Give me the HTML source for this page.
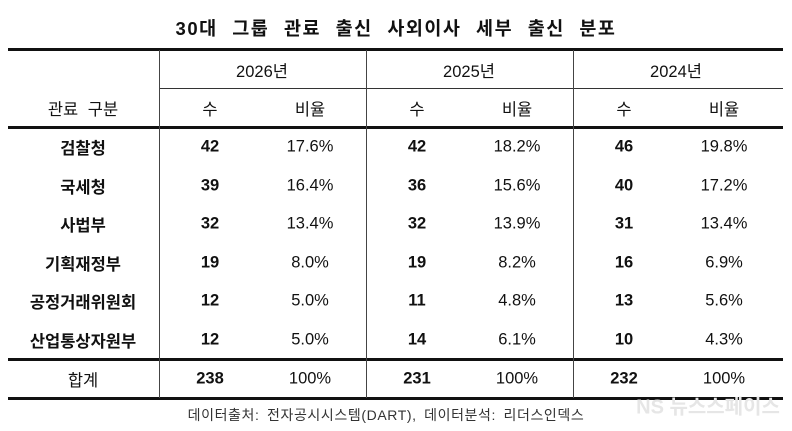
<!DOCTYPE html>
<html><head><meta charset="utf-8"><style>
body{margin:0;width:792px;height:431px;background:#fff;font-family:"Liberation Sans","Noto Sans CJK KR",sans-serif;color:#111;position:relative;overflow:hidden}
.a{position:absolute;white-space:nowrap;transform:translate(-50%,-50%);font-size:16.5px}
.b{font-weight:bold}
.h{position:absolute;background:#111}
</style></head><body>
<div class="a b" style="left:396px;top:28px;font-size:18.5px;letter-spacing:1.5px;word-spacing:8px">30대 그룹 관료 출신 사외이사 세부 출신 분포</div>
<div class="h" style="left:8px;top:48px;width:775px;height:3px"></div>
<div class="h" style="left:159px;top:88px;width:624px;height:1px;background:#333"></div>
<div class="h" style="left:8px;top:126px;width:775px;height:3px"></div>
<div class="h" style="left:8px;top:358px;width:775px;height:3px"></div>
<div class="h" style="left:8px;top:397px;width:775px;height:3px"></div>
<div class="h" style="left:159px;top:50px;width:1px;height:348px;background:#444"></div>
<div class="h" style="left:366px;top:50px;width:1px;height:348px;background:#444"></div>
<div class="h" style="left:573px;top:50px;width:1px;height:348px;background:#444"></div>
<div class="a" style="left:83px;top:108px;word-spacing:5px">관료 구분</div>
<div class="a" style="left:262px;top:70px">2026년</div>
<div class="a" style="left:469px;top:70px">2025년</div>
<div class="a" style="left:676px;top:70px">2024년</div>
<div class="a" style="left:210px;top:108px">수</div><div class="a" style="left:310px;top:108px">비율</div>
<div class="a" style="left:417px;top:108px">수</div><div class="a" style="left:517px;top:108px">비율</div>
<div class="a" style="left:624px;top:108px">수</div><div class="a" style="left:724px;top:108px">비율</div>
<div id="r"></div>
<script>
var d=[["검찰청",42,"17.6%",42,"18.2%",46,"19.8%"],["국세청",39,"16.4%",36,"15.6%",40,"17.2%"],["사법부",32,"13.4%",32,"13.9%",31,"13.4%"],["기획재정부",19,"8.0%",19,"8.2%",16,"6.9%"],["공정거래위원회",12,"5.0%",11,"4.8%",13,"5.6%"],["산업통상자원부",12,"5.0%",14,"6.1%",10,"4.3%"]];
var h="",xs=[210,310,417,517,624,724];
d.forEach(function(r,i){var y=147+i*38.6;h+='<div class="a b" style="left:83px;top:'+y+'px">'+r[0]+'</div>';for(var j=0;j<6;j++)h+='<div class="a'+(j%2==0?' b':'')+'" style="left:'+xs[j]+'px;top:'+y+'px">'+r[j+1]+'</div>';});
var t=["238","100%","231","100%","232","100%"];
h+='<div class="a" style="left:83px;top:379px">합계</div>';
for(var j=0;j<6;j++)h+='<div class="a'+(j%2==0?' b':'')+'" style="left:'+xs[j]+'px;top:379px">'+t[j]+'</div>';
document.getElementById("r").innerHTML=h;
</script>
<div class="a" style="left:386px;top:415px;font-size:14px;color:#333;letter-spacing:0.6px;word-spacing:3px">데이터출처: 전자공시시스템(DART), 데이터분석: 리더스인덱스</div>
<div class="a b" style="left:708px;top:405px;font-size:20px;color:#e6e6e6">NS 뉴스스페이스</div>
</body></html>
